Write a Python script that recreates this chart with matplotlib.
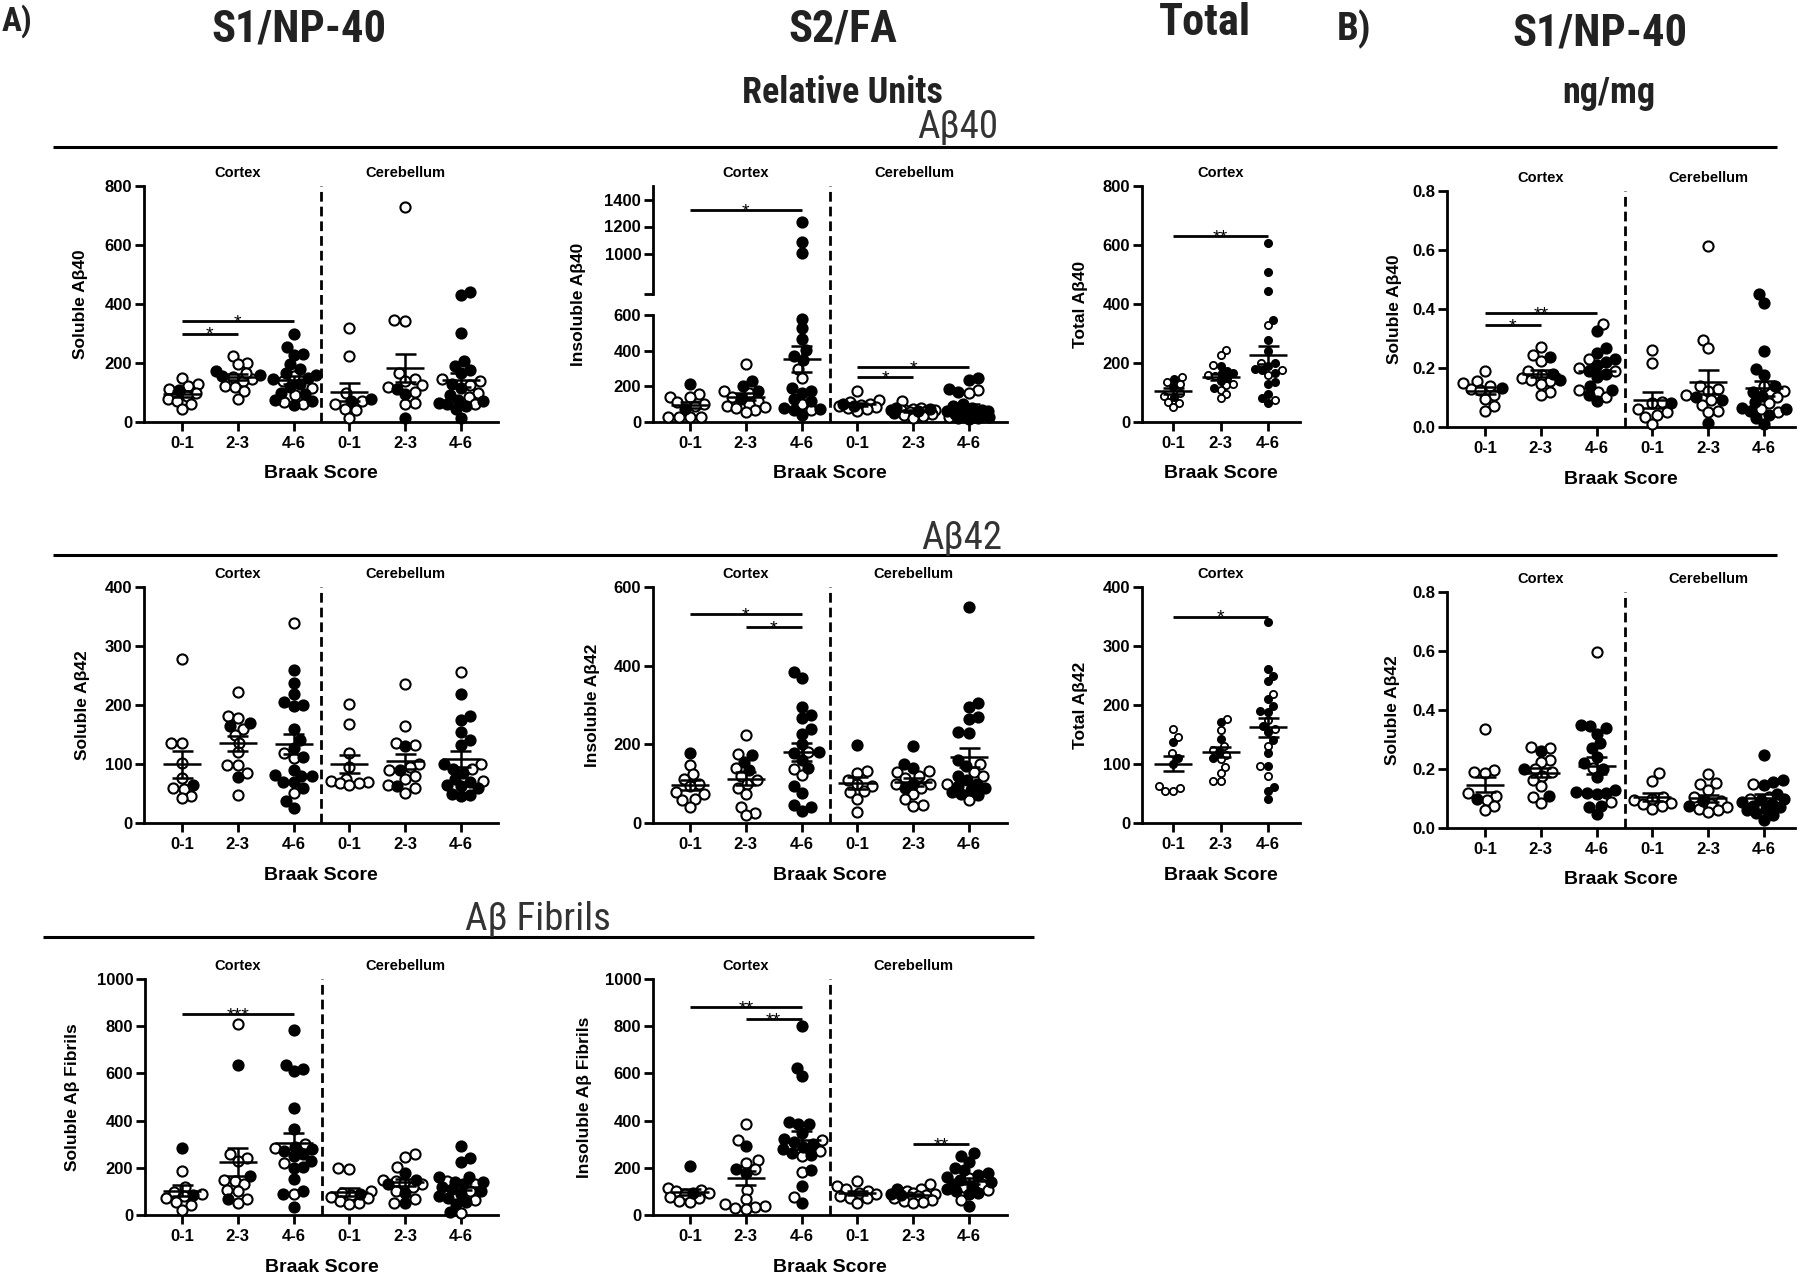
import os
import numpy as np
import matplotlib
matplotlib.use("Agg")
import matplotlib.pyplot as plt
from matplotlib.lines import Line2D
from matplotlib import font_manager
from matplotlib.font_manager import FontProperties

# ---------------- data ----------------
braak = ["0-1", "2-3", "4-6"]

# Soluble Abeta40, relative units (cortex 0-1, 2-3, 4-6, cerebellum 0-1, 2-3, 4-6)
sol40_open = [[150, 130, 122, 111, 98, 88, 77, 71, 60, 43],
              [201, 224, 195, 152, 145, 140, 122, 118, 105, 79, 165],
              [155, 140, 115, 90, 69, 62],
              [318, 224, 99, 72, 60, 43, 42, 15],
              [730, 342, 345, 167, 145, 125, 119, 102, 66, 60, 140],
              [145, 140, 125, 100, 85, 60]]
sol40_fill = [[107],
              [173, 160, 155],
              [300, 255, 232, 228, 195, 180, 165, 160, 150, 145, 130, 120, 100, 94, 75, 70, 58],
              [77, 70],
              [113, 94, 15],
              [440, 430, 302, 207, 190, 175, 165, 130, 115, 90, 73, 70, 65, 60, 55, 45, 15]]
sig_sol40 = [(0, 1, 300, "*"), (0, 2, 342, "*")]

# Insoluble Abeta40
ins40_open = [[155, 140, 140, 110, 99, 90, 30, 30, 28, 28],
              [327, 175, 160, 140, 120, 100, 90, 85, 80, 70, 56],
              [300, 249, 100, 65],
              [174, 125, 110, 100, 95, 90, 85, 80, 75, 62],
              [118, 80, 75, 70, 65, 65, 60, 55, 45, 39, 35, 24],
              [180, 165, 50, 40, 30]]
ins40_fill = [[215, 75],
              [230, 202, 175, 130],
              [1235, 1087, 1004, 579, 525, 467, 402, 370, 350, 190, 174, 165, 130, 120, 80, 75, 70, 39],
              [100, 90],
              [80, 75, 70, 60, 50],
              [245, 235, 183, 170, 100, 90, 80, 70, 60, 60, 55, 50, 45, 40, 35, 30, 25, 20, 15]]
sig_ins40 = [(0, 2, 1320, "*"), (3, 4, 250, "*"), (3, 5, 310, "*")]

# Total Abeta40 (cortex only)
tot40_open = [[153, 137, 130, 100, 88, 69, 66, 51],
              [243, 226, 193, 160, 155, 130, 125, 110, 96, 80],
              [328, 200, 175, 160, 75]]
tot40_fill = [[145, 120, 85],
              [190, 172, 165, 165, 150, 140, 115],
              [608, 508, 444, 347, 277, 240, 200, 190, 180, 175, 165, 135, 130, 95, 80, 63]]
sig_tot40 = [(0, 2, 630, "**")]

# Soluble Abeta40, ng/mg
ng40_open = [[0.19, 0.155, 0.15, 0.14, 0.13, 0.125, 0.11, 0.095, 0.07, 0.055],
             [0.27, 0.245, 0.225, 0.19, 0.175, 0.165, 0.16, 0.155, 0.146, 0.119, 0.11],
             [0.35, 0.23, 0.2, 0.19, 0.127, 0.12, 0.10],
             [0.26, 0.217, 0.085, 0.08, 0.06, 0.05, 0.04, 0.033, 0.011],
             [0.612, 0.296, 0.268, 0.14, 0.13, 0.121, 0.11, 0.09, 0.075, 0.055, 0.05],
             [0.14, 0.121, 0.10, 0.08, 0.06, 0.05]]
ng40_fill = [[0.132],
             [0.236, 0.18, 0.161],
             [0.325, 0.268, 0.25, 0.23, 0.22, 0.21, 0.19, 0.18, 0.17, 0.14, 0.125, 0.11, 0.087],
             [0.08],
             [0.10, 0.09, 0.014],
             [0.451, 0.421, 0.257, 0.195, 0.175, 0.14, 0.12, 0.105, 0.085, 0.065, 0.06, 0.055, 0.04, 0.03, 0.01]]
sig_ng40 = [(0, 1, 0.345, "*"), (0, 2, 0.387, "**")]

# Soluble Abeta42
sol42_open = [[278, 136, 135, 102, 76, 59, 58, 45, 42],
              [222, 181, 178, 160, 150, 136, 120, 99, 98, 84, 48],
              [339, 119, 110, 51],
              [201, 167, 118, 95, 75, 72, 70, 68, 68, 65],
              [236, 164, 136, 133, 100, 95, 90, 80, 75, 65, 59, 51],
              [256, 100, 92, 72]]
sol42_fill = [[65],
              [170, 164, 78],
              [260, 238, 219, 205, 200, 198, 159, 140, 127, 112, 90, 81, 80, 80, 70, 70, 60, 37, 25],
              [],
              [130, 90, 62],
              [219, 182, 174, 155, 141, 133, 100, 92, 85, 75, 70, 65, 62, 59, 50, 48, 45]]
sig_sol42 = []

# Insoluble Abeta42
ins42_open = [[147, 124, 113, 100, 93, 79, 75, 62, 59, 41],
              [223, 175, 141, 120, 110, 100, 90, 75, 41, 25, 20],
              [180, 137, 121],
              [133, 128, 110, 100, 95, 81, 80, 62, 28],
              [133, 130, 120, 115, 100, 100, 90, 75, 60, 45, 42],
              [150, 130, 120, 100, 58]]
ins42_fill = [[177],
              [172, 155, 134],
              [385, 368, 294, 274, 266, 238, 226, 200, 180, 178, 160, 140, 93, 76, 45, 41, 30],
              [198],
              [195, 150, 140, 100, 90],
              [550, 305, 295, 270, 265, 232, 230, 161, 145, 120, 110, 100, 95, 90, 85, 80, 75, 70]]
sig_ins42 = [(0, 2, 531, "*"), (1, 2, 498, "*")]

# Total Abeta42 (cortex only)
tot42_open = [[159, 146, 118, 62, 60, 55, 54],
              [177, 158, 130, 124, 115, 108, 95, 85, 72, 72],
              [219, 175, 160, 131, 97, 79]]
tot42_fill = [[137, 110, 100],
              [172, 143, 120, 110],
              [340, 261, 249, 240, 210, 198, 190, 188, 165, 155, 141, 118, 96, 61, 54, 41]]
sig_tot42 = [(0, 2, 350, "*")]

# Soluble Abeta42, ng/mg
ng42_open = [[0.335, 0.198, 0.19, 0.187, 0.117, 0.11, 0.094, 0.074, 0.062],
             [0.275, 0.27, 0.23, 0.225, 0.2, 0.19, 0.176, 0.164, 0.142, 0.105, 0.086],
             [0.598, 0.205, 0.088],
             [0.185, 0.16, 0.105, 0.1, 0.095, 0.085, 0.08, 0.075, 0.065],
             [0.182, 0.153, 0.15, 0.13, 0.105, 0.09, 0.08, 0.07, 0.065, 0.06, 0.055],
             [0.148, 0.105, 0.1]]
ng42_fill = [[0.10],
             [0.26, 0.2, 0.11],
             [0.349, 0.345, 0.338, 0.32, 0.289, 0.27, 0.241, 0.22, 0.2, 0.173, 0.13, 0.122, 0.12, 0.12, 0.115, 0.074, 0.07, 0.046],
             [],
             [0.09, 0.075],
             [0.249, 0.164, 0.155, 0.145, 0.115, 0.1, 0.095, 0.088, 0.08, 0.075, 0.07, 0.065, 0.06, 0.05, 0.045, 0.028]]
sig_ng42 = []

# Soluble Abeta fibrils
solfib_open = [[188, 120, 99, 90, 80, 71, 55, 42, 21],
               [809, 257, 240, 230, 150, 146, 131, 106, 100, 66, 50],
               [300, 283, 219, 89],
               [198, 195, 100, 95, 85, 75, 71, 60, 50, 45],
               [257, 245, 205, 150, 145, 137, 130, 120, 100, 66, 50],
               [146, 130, 100, 64, 10]]
solfib_fill = [[283, 85],
               [636, 165, 66],
               [785, 634, 620, 611, 453, 364, 290, 280, 270, 260, 250, 230, 205, 198, 151, 100, 90, 35],
               [90],
               [180, 150, 130, 92, 50],
               [293, 240, 225, 163, 160, 140, 140, 130, 120, 110, 100, 90, 80, 71, 55, 45, 14]]
sig_solfib = [(0, 2, 852, "***")]

# Insoluble Abeta fibrils
insfib_open = [[116, 105, 103, 95, 90, 78, 74, 59, 55],
               [386, 318, 233, 219, 194, 106, 66, 45, 40, 35, 28, 24],
               [318, 273, 250, 184, 78],
               [146, 125, 110, 100, 95, 90, 80, 74, 70, 50],
               [130, 110, 100, 95, 90, 85, 80, 75, 70, 65, 60, 55, 50],
               [155, 130, 120, 106, 64]]
insfib_fill = [[208, 95],
               [293, 194, 177],
               [799, 625, 590, 396, 385, 385, 346, 320, 310, 300, 290, 280, 262, 255, 191, 124, 50],
               [],
               [110, 90, 85],
               [262, 250, 226, 200, 190, 180, 170, 160, 150, 140, 130, 120, 110, 100, 95, 90, 40]]
sig_insfib = [(0, 2, 883, "**"), (1, 2, 830, "**"), (4, 5, 300, "**")]

# ---------------- fonts / figure ----------------
W, H = 1802, 1274
names = {f.name for f in font_manager.fontManager.ttflist}
SANS = "Liberation Sans" if "Liberation Sans" in names else "DejaVu Sans"
plt.rcParams["font.family"] = [SANS, "DejaVu Sans"]
plt.rcParams["font.weight"] = "bold"


def find_narrow(bold):
    # look for a narrow / condensed face for the big headings
    prefer = ["liberationsansnarrow", "robotocondensed", "opensanscondensed",
              "notosans-condensed", "notosanscondensed", "dejavusanscondensed"]
    found = {}
    for f in font_manager.fontManager.ttflist:
        fn = os.path.basename(f.fname).lower().replace("_", "")
        if "italic" in fn or "oblique" in fn or "semi" in fn or "extra" in fn or "ultra" in fn:
            continue
        if not ("narrow" in fn or "condensed" in fn):
            continue
        is_bold = "bold" in fn
        is_reg = not any(k in fn for k in ("bold", "light", "thin", "black", "medium", "heavy"))
        if (bold and is_bold and "semibold" not in fn) or (not bold and is_reg):
            for rank, p in enumerate(prefer):
                if fn.startswith(p):
                    found.setdefault(rank, f.fname)
    if found:
        return found[min(found)]
    return None


NARROW_B = find_narrow(True)
NARROW_R = find_narrow(False)

fig = plt.figure(figsize=(W / 100, H / 100), dpi=100)


def fx(x):
    return x / W


def fy(y):
    return 1 - y / H


def ftext(x, y, s, **kw):
    return fig.text(fx(x), fy(y), s, **kw)


def head(x, y, s, size, bold=True, color="#222222"):
    path = NARROW_B if bold else NARROW_R
    if path:
        fp = FontProperties(fname=path, size=size)
    else:
        fp = FontProperties(family=SANS, weight="bold" if bold else "normal", size=size * 0.8)
    ftext(x, y, s, fontproperties=fp, color=color, ha="center", va="baseline")


def hline(x0, x1, y, lw=2.2):
    fig.add_artist(Line2D([fx(x0), fx(x1)], [fy(y), fy(y)], transform=fig.transFigure,
                          color="black", lw=lw, solid_capstyle="butt"))


def new_axes(x0, x1, ytop, ybot, c0, sp, ylim, yticks, ylabels, bottom=True):
    ax = fig.add_axes([fx(x0), fy(ybot), (x1 - x0) / W, (ybot - ytop) / H])
    ax.set_xlim((x0 - c0) / sp, (x1 - c0) / sp)
    ax.set_ylim(*ylim)
    for s in ("top", "right"):
        ax.spines[s].set_visible(False)
    ax.spines["left"].set_linewidth(2)
    ax.spines["bottom"].set_linewidth(2)
    ax.set_yticks(yticks, ylabels)
    ax.tick_params(axis="both", length=6.5, width=2, labelsize=12, pad=2)
    ax.tick_params(axis="x", pad=3.5)
    if not bottom:
        ax.spines["bottom"].set_visible(False)
        ax.set_xticks([])
    ax.patch.set_alpha(0)
    return ax


def swarm(ypix, d, cap):
    # beeswarm offsets (pixels), kept within +-cap; points may overlap when crowded
    xs = np.zeros(len(ypix))
    placed = []
    grid = sorted(np.linspace(-cap, cap, 29), key=lambda c: (abs(c), c))
    for i in np.argsort(ypix):
        y = ypix[i]
        best, best_d = 0.0, -1.0
        for c in grid:
            md = min([np.hypot(c - xp, y - yp) for xp, yp in placed], default=1e9)
            if md >= d:
                best = c
                break
            if md > best_d + 1e-9:
                best, best_d = c, md
        xs[i] = best
        placed.append((best, y))
    return xs


def draw_groups(parts, opens, fills, ms, mew, d, cap):
    # parts: list of (ax, lo, hi); the first axes carries the mean / SEM bars
    base = parts[0][0]
    pxu = base.transData.transform((1, 0))[0] - base.transData.transform((0, 0))[0]
    for g, (op, fl) in enumerate(zip(opens, fills)):
        vals = list(op) + list(fl)
        filled = [False] * len(op) + [True] * len(fl)
        axs = [next(a for a, lo, hi in parts if lo <= v <= hi) for v in vals]
        ypix = np.array([a.transData.transform((g, v))[1] for a, v in zip(axs, vals)])
        offs = swarm(ypix, d, cap) / pxu
        for a, v, o, f in zip(axs, vals, offs, filled):
            a.plot(g + o, v, "o", ms=ms, mew=mew, mec="black",
                   mfc="black" if f else "white", zorder=3, clip_on=False)
        m = np.mean(vals)
        s = np.std(vals, ddof=1) / np.sqrt(len(vals))
        hw, sw = 19 / pxu, 10.5 / pxu
        kw = dict(color="black", lw=1.8, zorder=4, solid_capstyle="butt")
        base.plot([g - hw, g + hw], [m, m], **kw)
        base.plot([g - sw, g + sw], [m + s, m + s], **kw)
        base.plot([g - sw, g + sw], [m - s, m - s], **kw)
        base.plot([g, g], [m - s, m + s], **kw)


def draw_sig(ax, sigs):
    for a, b, y, star in sigs:
        ax.plot([a, b], [y, y], color="black", lw=2, solid_capstyle="butt", clip_on=False)
        ax.annotate(star, (0.5 * (a + b), y), xytext=(0, -4.6), textcoords="offset points",
                    ha="center", va="baseline", fontsize=14, fontweight="normal")


def panel(x0, x1, c0, sp, ytop, ybot, ymax, ystep, fmt, ylabel, ylab_x,
          opens, fills, sigs, small=False):
    yt = np.arange(0, ymax + ystep / 2, ystep)
    ax = new_axes(x0, x1, ytop, ybot, c0, sp, (0, ymax), yt, [fmt.format(v) for v in yt])
    n = len(opens)
    ax.set_xticks(range(n), (braak * 2)[:n])
    ftext(c0 + sp, ytop - 13, "Cortex", ha="center", va="center", fontsize=10.5)
    if n == 6:
        ftext(c0 + 4 * sp, ytop - 13, "Cerebellum", ha="center", va="center", fontsize=10.5)
        ax.axvline(2.5, color="black", lw=2, ls=(0, (3.5, 1.8)))
    ftext(ylab_x, 0.5 * (ytop + ybot), ylabel, rotation=90, ha="center", va="center", fontsize=12.5)
    ftext(0.5 * (x0 + x1), ybot + 52, "Braak Score", ha="center", va="center", fontsize=14)
    if small:
        draw_groups([(ax, -1e9, 1e9)], opens, fills, 5.2, 1.3, 7, 16)
    else:
        draw_groups([(ax, -1e9, 1e9)], opens, fills, 7.3, 1.5, 9.5, 22)
    draw_sig(ax, sigs)
    return ax


# ---------------- headers ----------------
head(17, 31, "A)", 24)
head(299, 42, "S1/NP-40", 32)
head(843, 42, "S2/FA", 32)
head(1205, 35, "Total", 32)
head(1354, 40, "B)", 28)
head(1600, 46, "S1/NP-40", 32)
head(842, 103, "Relative Units", 26)
head(1609, 103, "ng/mg", 26)

head(958, 138, "Aβ40", 28, bold=False, color="#333333")
head(962, 549, "Aβ42", 28, bold=False, color="#333333")
head(538, 930, "Aβ Fibrils", 28, bold=False, color="#333333")
hline(53, 1777, 147)
hline(53, 1777, 555)
hline(43, 1034, 937)

# ---------------- row 1: Abeta40 ----------------
panel(144, 498, 182, 55.8, 186, 422, 800, 200, "{:.0f}", "Soluble Aβ40", 81,
      sol40_open, sol40_fill, sig_sol40)

# broken-axis panel
lo = new_axes(653, 1007, 315, 422, 690, 55.8, (0, 600), [0, 200, 400, 600], ["0", "200", "400", "600"])
hi = new_axes(653, 1007, 186, 294, 690, 55.8, (700, 1500), [700, 1000, 1200, 1400],
              ["", "1000", "1200", "1400"], bottom=False)
lo.set_xticks(range(6), braak * 2)
draw_groups([(lo, -1e9, 650), (hi, 650, 1e9)], ins40_open, ins40_fill, 7.3, 1.5, 9.5, 22)
draw_sig(hi, [s for s in sig_ins40 if s[2] > 650])
draw_sig(lo, [s for s in sig_ins40 if s[2] <= 650])
xdiv = lo.transData.transform((2.5, 0))[0]
fig.add_artist(Line2D([xdiv / W, xdiv / W], [fy(422), fy(186)], transform=fig.transFigure,
                      color="black", lw=2, ls=(0, (3.5, 1.8))))
ftext(746, 173, "Cortex", ha="center", va="center", fontsize=10.5)
ftext(914, 173, "Cerebellum", ha="center", va="center", fontsize=10.5)
ftext(578, 304, "Insoluble Aβ40", rotation=90, ha="center", va="center", fontsize=12.5)
ftext(830, 474, "Braak Score", ha="center", va="center", fontsize=14)

panel(1142, 1300, 1173, 47.5, 186, 422, 800, 200, "{:.0f}", "Total Aβ40", 1081,
      tot40_open, tot40_fill, sig_tot40, small=True)
panel(1447, 1795, 1485, 55.8, 191, 427, 0.8, 0.2, "{:.1f}", "Soluble Aβ40", 1395,
      ng40_open, ng40_fill, sig_ng40)

# ---------------- row 2: Abeta42 ----------------
panel(144, 498, 182, 55.8, 587, 823, 400, 100, "{:.0f}", "Soluble Aβ42", 83,
      sol42_open, sol42_fill, sig_sol42)
panel(653, 1007, 690, 55.8, 587, 823, 600, 200, "{:.0f}", "Insoluble Aβ42", 592,
      ins42_open, ins42_fill, sig_ins42)
panel(1142, 1300, 1173, 47.5, 587, 823, 400, 100, "{:.0f}", "Total Aβ42", 1081,
      tot42_open, tot42_fill, sig_tot42, small=True)
panel(1447, 1795, 1485, 55.8, 592, 828, 0.8, 0.2, "{:.1f}", "Soluble Aβ42", 1392,
      ng42_open, ng42_fill, sig_ng42)

# ---------------- row 3: Abeta fibrils ----------------
panel(145, 498, 182, 55.8, 979, 1215, 1000, 200, "{:.0f}", "Soluble Aβ Fibrils", 73,
      solfib_open, solfib_fill, sig_solfib)
panel(653, 1007, 690, 55.8, 979, 1215, 1000, 200, "{:.0f}", "Insoluble Aβ Fibrils", 585,
      insfib_open, insfib_fill, sig_insfib)

fig.savefig("out.png", dpi=100)
